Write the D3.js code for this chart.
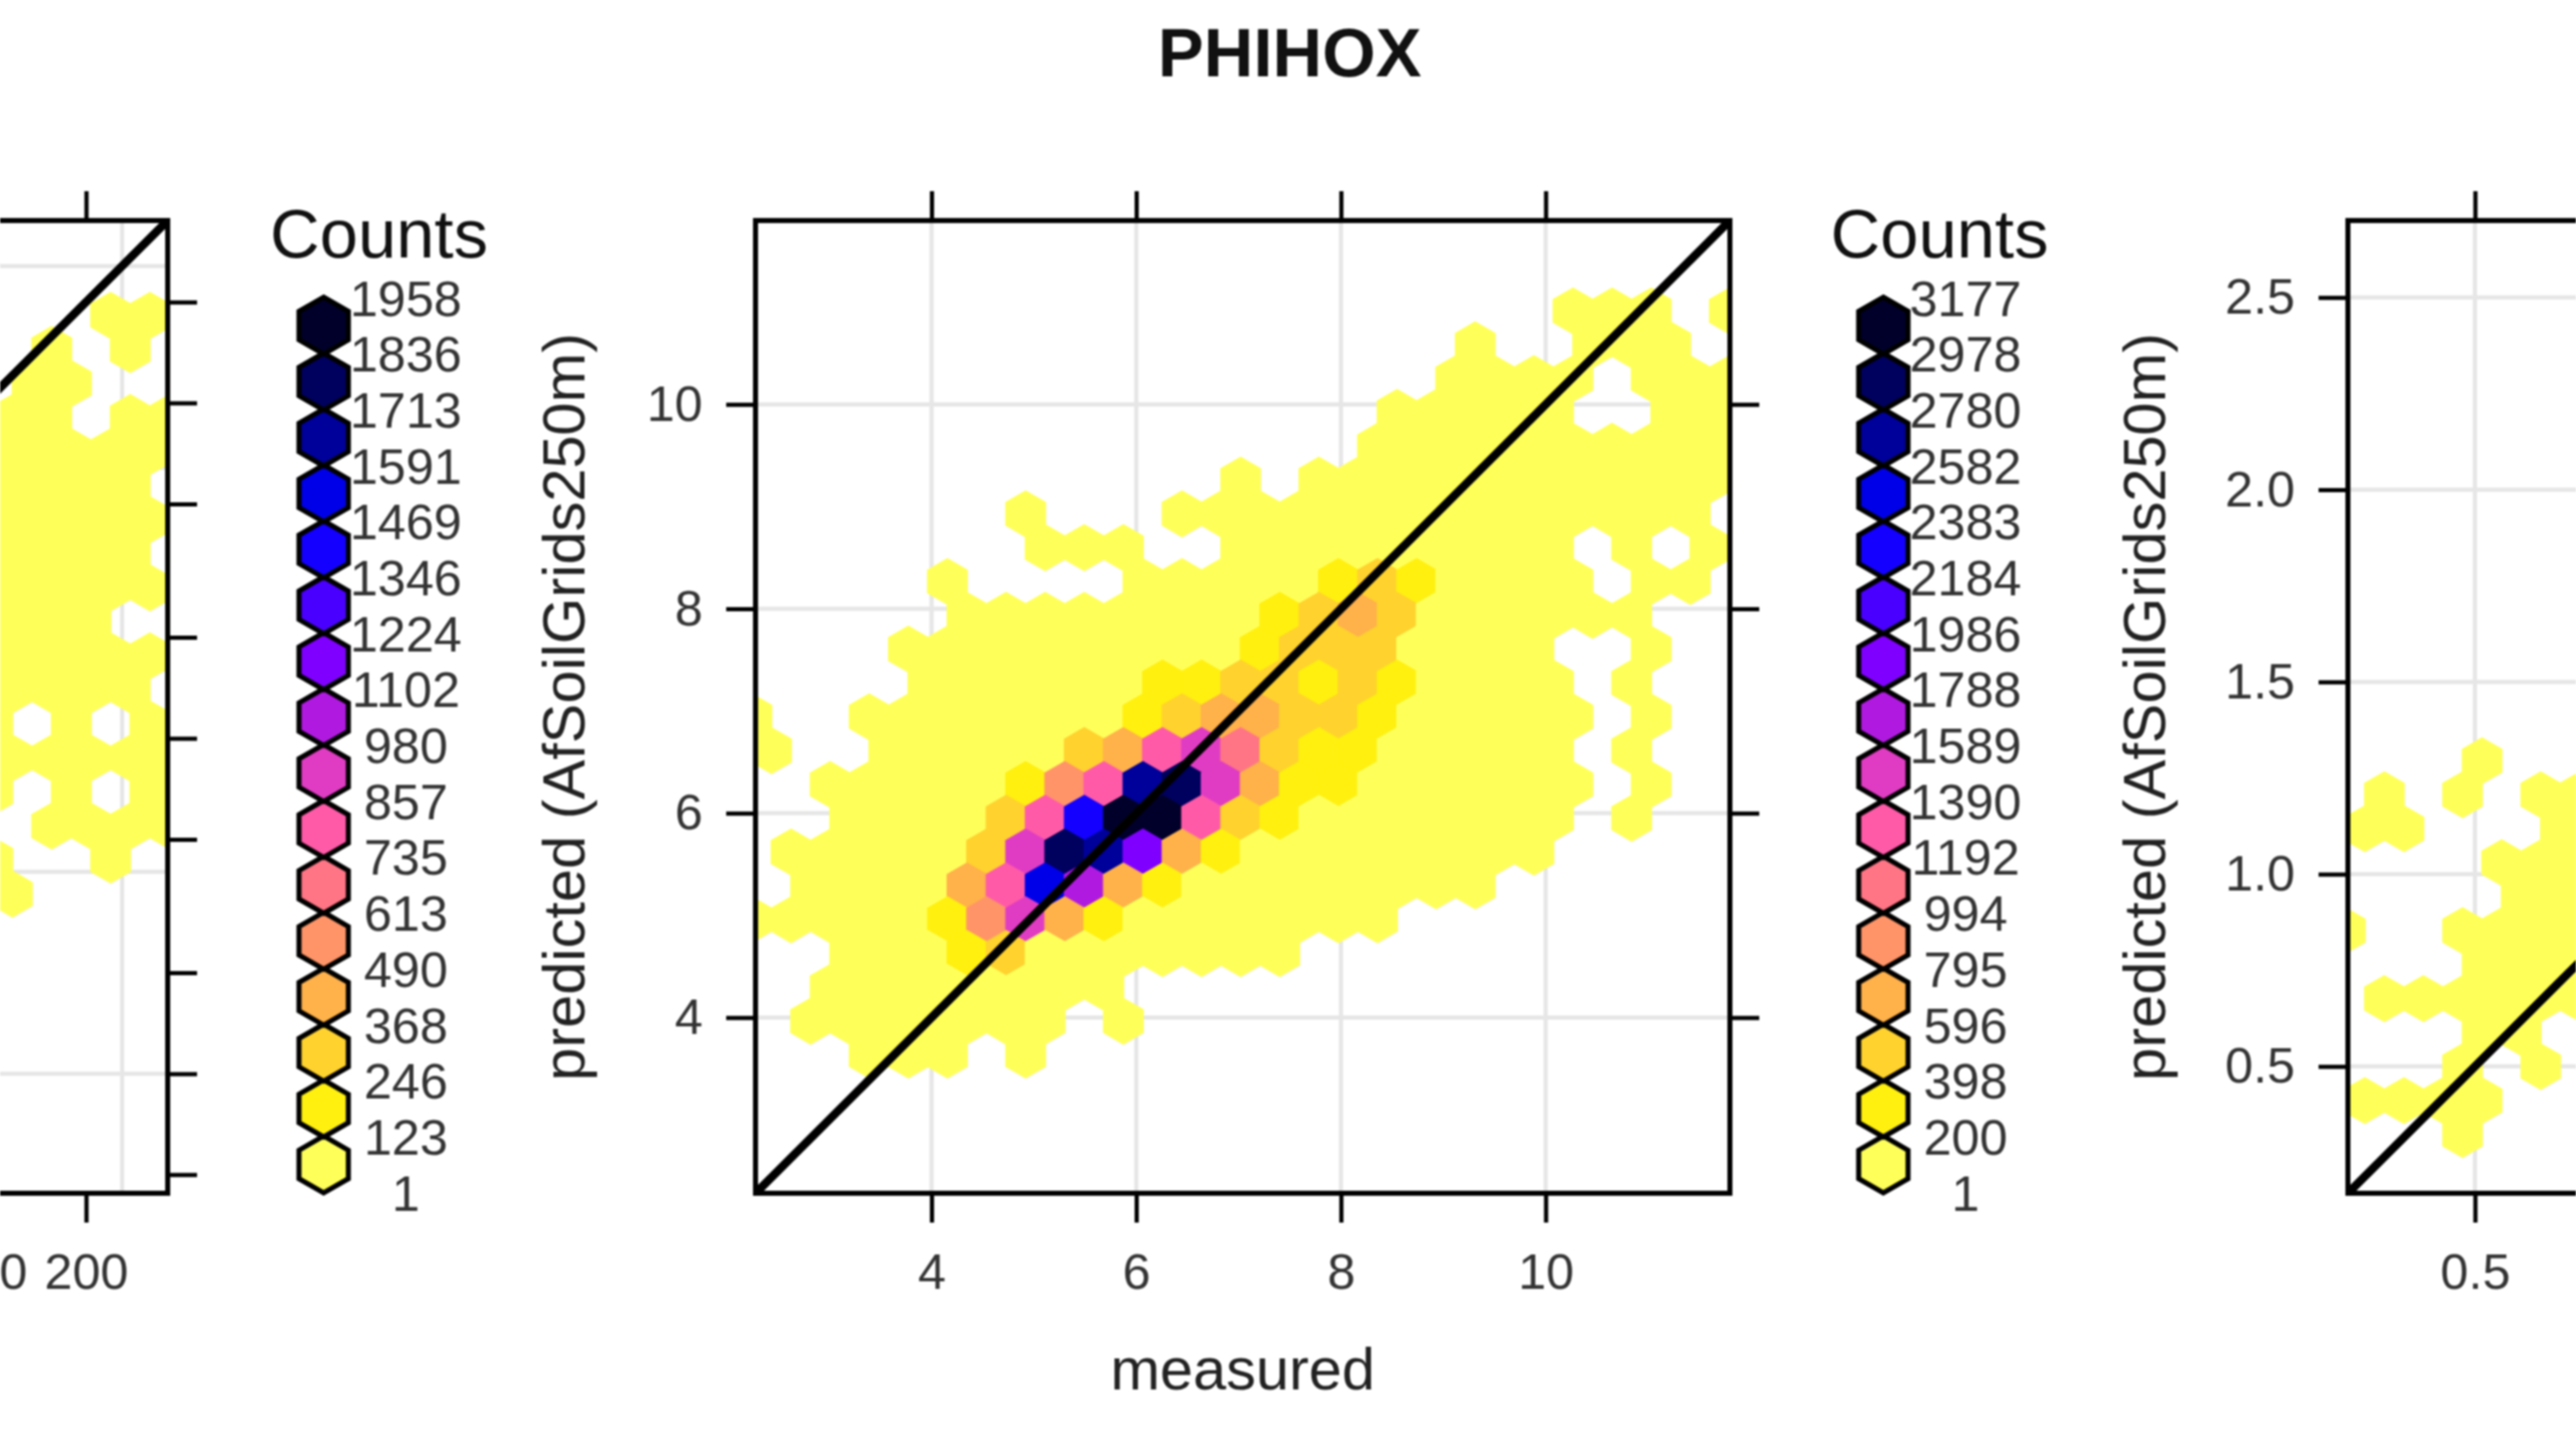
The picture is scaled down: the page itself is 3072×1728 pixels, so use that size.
<!DOCTYPE html>
<html>
<head>
<meta charset="utf-8">
<script src="https://d3js.org/d3.v7.min.js"></script>
<style>
  html, body { margin: 0; padding: 0; background: #fff; overflow: hidden; }
  text { font-family: "Liberation Sans", Arial, sans-serif; }
  #chart { filter: blur(0.9px); }
</style>
</head>
<body>
<svg id="chart" width="3072" height="1728"></svg>
<script>
// legend breaks, bottom to top
const leftCounts = [1, 123, 246, 368, 490, 613, 735, 857, 980, 1102, 1224, 1346, 1469, 1591, 1713, 1836, 1958];
const centerCounts = [1, 200, 398, 596, 795, 994, 1192, 1390, 1589, 1788, 1986, 2184, 2383, 2582, 2780, 2978, 3177];
const hexColors = ["#FFFF5A", "#FFF00F", "#FFD22E", "#FFB14A", "#FF9468", "#FF7585", "#FF5AA8", "#E03CC3",
  "#B01AE0", "#8000FF", "#4A00FF", "#1400FF", "#0000E8", "#00009B", "#00005E", "#00002B"];

// hexagon cells, one string per row from the top, a..p = legend class, . = empty
const centerRows = [
  ".....................aaa.a",
  "..................a..aaa..",
  "..................aaaa.aaa",
  "................aaaaa..aa.",
  "................aaaaaaaaaa",
  "............a.aaaaaaaaaaa.",
  ".......a...aaaaaaaaaaaaaa.",
  ".......aaa..aaaaaaaaa.a.a.",
  ".....a....aaaaabcbaaaa.aa.",
  ".....aaaaaaaabcdcaaaaaa...",
  "....aaaaaaaaabcccaaaa..a..",
  "....aaaaaabbccbcbaaaa.a...",
  "a..aaaaaaabcddccbaaaaa.a..",
  "a..aaaaacdghfcbbaaaaa.a...",
  "..aaaaabegnohdbbaaaaaa.a..",
  "..aaaacglppgcbaaaaaaa.a...",
  ".aaaaachonjdbaaaaaaaa.....",
  ".aaaadgmidbaaaaaaaa.......",
  "aaaaabehdbaaaaaaa.........",
  "..aaabcaaaaaaa............",
  "..aaaaaaaa................",
  ".aaaaaaa.a................",
  "...aaa.a.................."
];
const leftRows = [
  "...aa", ".a.a.", ".aa..", "aa.aa", "aaaaa", "aaaa.", "aaaaa", "aaaa.", "aaaaa",
  "aaa..", "aaaaa", "aaaa.", "a.a.a", "aaaaa", "a.a.a", ".aaaa", "a..a.", "a...."
];
const rightRows = [
  "...a..", ".a.a.aa", "aa...a", "....aaa", "....aa", "a..aaaa",
  "...aaa", ".aaaaaa", "...aa.", "...a.a.", "aaaa..", "...a..."
];

const centerTicks = [4, 6, 8, 10];
const leftXTicks = [100, 200];
const leftYTicks = [200, 100, 50, 20, 10, 5, 2, 1, 0.5];
const leftGrid = [1, 4, 16, 64, 256];
const rightXTicks = [0.5];
const rightYTicks = [0.5, 1, 1.5, 2, 2.5];

const svg = d3.select("#chart");
const boxW = 1162, boxH = 1160, boxTop = 263;
const tickLen = 35;

svg.append("text").attr("x", 1538).attr("y", 91)
  .attr("text-anchor", "middle").attr("font-size", 82).attr("font-weight", "bold")
  .attr("fill", "#111").text("PHIHOX");

function hexPath(r) {
  return d3.range(6).map(i => {
    const a = Math.PI / 3 * i;
    return [r * Math.sin(a), -r * Math.cos(a)];
  });
}

function drawPanel(p) {
  const g = svg.append("g").attr("transform", `translate(${p.left},${boxTop})`);
  const x = p.scale().domain(p.domain).range([0, boxW]);
  const y = p.scale().domain(p.domain).range([boxH, 0]);
  const value = v => p.log ? Math.pow(10, v) : v;

  // lattice grid
  g.append("g").selectAll("line").data(p.grid).enter().append("line")
    .attr("x1", d => x(d)).attr("x2", d => x(d)).attr("y1", 0).attr("y2", boxH)
    .attr("stroke", "#E6E6E6").attr("stroke-width", 5);
  g.append("g").selectAll("line").data(p.grid).enter().append("line")
    .attr("y1", d => y(d)).attr("y2", d => y(d)).attr("x1", 0).attr("x2", boxW)
    .attr("stroke", "#E6E6E6").attr("stroke-width", 5);

  const clipId = "clip" + p.left;
  g.append("clipPath").attr("id", clipId).append("rect").attr("width", boxW).attr("height", boxH);

  const cells = p.rows.flatMap((row, i) => Array.from(row).map((ch, c) => ({
    level: ch === "." ? -1 : ch.charCodeAt(0) - 97,
    measured: value(p.colStart + c * p.colStep + (i % 2 ? p.altShift : 0)),
    predicted: value(p.rowStart + i * p.rowStep)
  }))).filter(d => d.level >= 0);

  const color = d3.scaleThreshold().domain(centerCounts.slice(1, -1)).range(hexColors);
  const radius = Math.abs(x(value(p.colStart + p.colStep)) - x(value(p.colStart))) / Math.sqrt(3);
  const hex = d3.line()(hexPath(radius)) + "Z";

  g.append("g").attr("clip-path", `url(#${clipId})`)
    .selectAll("path").data(cells).enter().append("path")
    .attr("d", hex)
    .attr("transform", d => `translate(${x(d.measured)},${y(d.predicted)})`)
    .attr("fill", d => color(centerCounts[d.level]))
    .attr("stroke", d => color(centerCounts[d.level]))
    .attr("stroke-width", 2);

  // 1:1 line
  g.append("line")
    .attr("x1", x(p.domain[0])).attr("y1", y(p.domain[0]))
    .attr("x2", x(p.domain[1])).attr("y2", y(p.domain[1]))
    .attr("stroke", "#000").attr("stroke-width", 10).attr("clip-path", `url(#${clipId})`);

  g.append("rect").attr("width", boxW).attr("height", boxH)
    .attr("fill", "none").attr("stroke", "#000").attr("stroke-width", 6);

  const axis = (a, pad, labelled, fmt) => {
    a.tickSize(tickLen).tickSizeOuter(0).tickPadding(pad);
    if (fmt) a.tickFormat(fmt);
    const ag = g.append("g").call(a).attr("font-size", 60);
    ag.select(".domain").remove();
    ag.selectAll("line").attr("stroke", "#000").attr("stroke-width", 5);
    ag.selectAll("text").attr("fill", "#333").attr("font-family", "Liberation Sans");
    if (!labelled) ag.selectAll("text").remove();
    return ag;
  };
  axis(d3.axisBottom(x).tickValues(p.xTicks), 36, true, p.xFmt).attr("transform", `translate(0,${boxH})`);
  axis(d3.axisTop(x).tickValues(p.xTicks), 18, false, p.xFmt);
  axis(d3.axisLeft(y).tickValues(p.yTicks), 28, p.yLabelled, p.yFmt);
  axis(d3.axisRight(y).tickValues(p.yTicks), 18, false, p.yFmt).attr("transform", `translate(${boxW},0)`);

  // axis titles, only where they fall inside the picture
  if (p.xTitle) {
    g.append("text").attr("x", boxW / 2).attr("y", 1394)
      .attr("text-anchor", "middle").attr("font-size", 71).attr("fill", "#222").text(p.xTitle);
  }
  if (p.yTitle) {
    g.append("text")
      .attr("transform", `translate(${p.yTitleX},${boxH / 2}) rotate(-90)`)
      .attr("text-anchor", "middle").attr("font-size", 71).attr("fill", "#222")
      .text(p.yTitle);
  }
}

function drawLegend(cx, labelX, titleX, counts) {
  const g = svg.append("g");
  const labelY = d3.scaleLinear().domain([0, counts.length - 1]).range([1422, 355]);
  g.append("text").attr("x", titleX).attr("y", 307).attr("text-anchor", "middle")
    .attr("font-size", 82).attr("fill", "#111").text("Counts");
  const hex = d3.line()(hexPath(34)) + "Z";
  g.selectAll("path").data(hexColors).enter().append("path")
    .attr("d", hex)
    .attr("transform", (d, i) => `translate(${cx},${labelY(i + 0.5)})`)
    .attr("fill", d => d).attr("stroke", "#000").attr("stroke-width", 6);
  g.selectAll("text.count").data(counts).enter().append("text")
    .attr("class", "count")
    .attr("x", labelX).attr("y", (d, i) => labelY(i))
    .attr("dy", "0.36em").attr("text-anchor", "middle")
    .attr("font-size", 60).attr("fill", "#333").text(d => d);
}

drawPanel({
  left: -962, scale: d3.scaleLog, log: true, domain: [0.44, 350],
  grid: leftGrid, xTicks: leftXTicks, yTicks: leftYTicks, rows: leftRows, yLabelled: false,
  colStart: 2.0235, colStep: 0.1169, altShift: 0.0584, rowStart: 2.261, rowStep: -0.1015,
  xFmt: d3.format("d"), yFmt: d3.format("~g")
});
drawPanel({
  left: 901, scale: d3.scaleLinear, log: false, domain: [2.28, 11.8],
  grid: centerTicks, xTicks: centerTicks, yTicks: centerTicks, rows: centerRows, yLabelled: true,
  colStart: 2.245, colStep: 0.382, altShift: 0.191, rowStart: 10.915, rowStep: -0.331,
  xFmt: d3.format("d"), yFmt: d3.format("d"),
  xTitle: "measured", yTitle: "predicted (AfSoilGrids250m)", yTitleX: -204
});
drawPanel({
  left: 2800, scale: d3.scaleLinear, log: false, domain: [0.17, 2.7],
  grid: rightYTicks, xTicks: rightXTicks, yTicks: rightYTicks, rows: rightRows, yLabelled: true,
  colStart: 0.214, colStep: 0.1015, altShift: -0.0508, rowStart: 1.295, rowStep: -0.0884,
  xFmt: d3.format(".1f"), yFmt: d3.format(".1f"),
  yTitle: "predicted (AfSoilGrids250m)", yTitleX: -218
});

drawLegend(386, 484, 452, leftCounts);
drawLegend(2246, 2344, 2313, centerCounts);
</script>
</body>
</html>
